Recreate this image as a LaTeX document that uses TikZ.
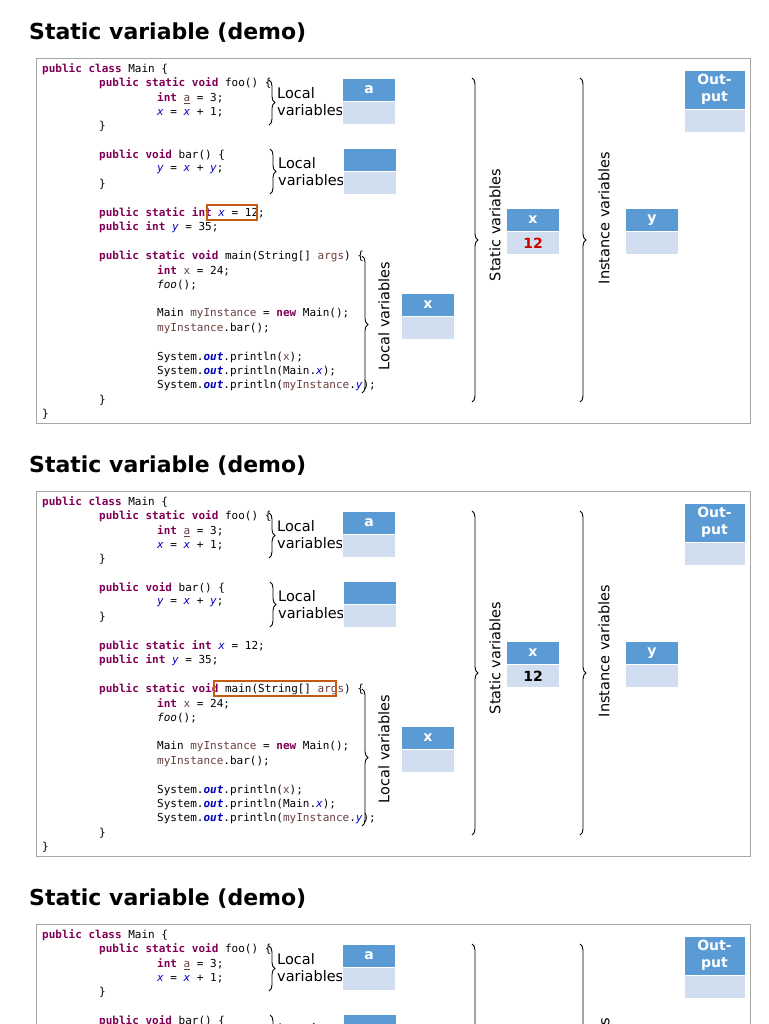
\documentclass[tikz,border=0pt]{standalone}
\usepackage{fontspec}
\setmainfont{DejaVu Sans}
\setmonofont{DejaVu Sans Mono}
\usetikzlibrary{decorations.pathreplacing}
\definecolor{kwcol}{HTML}{7F0055}
\definecolor{fldcol}{HTML}{0000C0}
\definecolor{lvcol}{HTML}{6A3E3E}
\definecolor{hdcol}{HTML}{5B9BD5}
\definecolor{bdcol}{HTML}{D0DEEF}
\definecolor{hlcol}{HTML}{C55A11}
\newcommand\kw[1]{\textcolor{kwcol}{\bfseries #1}}
\newcommand\fld[1]{\textcolor{fldcol}{\itshape #1}}
\newcommand\lv[1]{\textcolor{lvcol}{#1}}
\newcommand\outk{\textcolor{fldcol}{\bfseries\itshape out}}
\tikzset{
  code/.style={anchor=west,inner sep=0pt,font=\ttfamily\fontsize{11}{12}\selectfont},
  hd/.style={fill=hdcol,draw=white,inner sep=0pt,minimum width=53pt,minimum height=23pt,
    text=white,font=\bfseries\fontsize{14}{16}\selectfont},
  bd/.style={fill=bdcol,draw=white,inner sep=0pt,minimum width=53pt,minimum height=23pt,
    font=\bfseries\fontsize{14}{16}\selectfont},
  lbl/.style={inner sep=0pt,font=\fontsize{14.5}{17}\selectfont},
  brc/.style={decorate,decoration={brace,amplitude=6pt},line width=0.9pt},
  hl/.style={draw=hlcol,line width=1.5pt}
}
\begin{document}
\begin{tikzpicture}[x=1pt,y=-1pt]
  \useasboundingbox (0,0) rectangle (768,1024);
  \clip (0,0) rectangle (768,1024);
  \foreach \dy/\p/\vc in {0/1/red!80!black, 433/2/black, 866/3/black}{%
    \begin{scope}[shift={(0,\dy)}]
      \node[anchor=west,inner sep=0pt,font=\bfseries\fontsize{22}{26}\selectfont]
        (title\p) at (29,33) {Static variable (demo)};
      \draw[black!35] (36,58) rectangle (750,423);
      \foreach \i/\ind/\txt in {
        0/42/{\kw{public} \kw{class} Main \{},
        1/99/{\kw{public} \kw{static} \kw{void} foo() \{},
        2/157/{\kw{int} \lv{\underline{a}} = 3;},
        3/157/{\fld{x} = \fld{x} + 1;},
        4/99/{\}},
        6/99/{\kw{public} \kw{void} bar() \{},
        7/157/{\fld{y} = \fld{x} + \fld{y};},
        8/99/{\}},
        10/99/{\kw{public} \kw{static} \kw{int} \fld{x} = 12;},
        11/99/{\kw{public} \kw{int} \fld{y} = 35;},
        13/99/{\kw{public} \kw{static} \kw{void} main(String[] \lv{args}) \{},
        14/157/{\kw{int} \lv{x} = 24;},
        15/157/{\textit{foo}();},
        17/157/{Main \lv{myInstance} = \kw{new} Main();},
        18/157/{\lv{myInstance}.bar();},
        20/157/{System.\outk.println(\lv{x});},
        21/157/{System.\outk.println(Main.\fld{x});},
        22/157/{System.\outk.println(\lv{myInstance}.\fld{y});},
        23/99/{\}},
        24/42/{\}}}{%
        \node[code] (c\p-\i) at (\ind,69+14.4*\i) {\txt};
      }
      % local variables of foo and bar
      \draw[brc] (269,80) -- (269,125);
      \node[lbl,align=left,anchor=west] (lf\p) at (277,102) {Local\\variables};
      \node[hd] (ha\p) at (369,90) {a};
      \node[bd] (ba\p) at (369,113) {};
      \draw[brc] (270,149) -- (270,194);
      \node[lbl,align=left,anchor=west] (lb\p) at (278,172) {Local\\variables};
      \node[hd] (hb\p) at (370,160) {};
      \node[bd] (bb\p) at (370,183) {};
      % local variables of main
      \draw[brc] (362,256) -- (362,393);
      \node[lbl,rotate=90] (lm\p) at (384,316) {Local variables};
      \node[hd] (hx\p) at (428,305) {x};
      \node[bd] (bx\p) at (428,328) {};
      % static and instance variables
      \draw[brc] (472,78) -- (472,402);
      \node[lbl,rotate=90] (ls\p) at (495,225) {Static variables};
      \node[hd] (hs\p) at (533,220) {x};
      \node[bd,text=\vc] (bs\p) at (533,243) {12};
      \draw[brc] (580,78) -- (580,402);
      \node[lbl,rotate=90] (li\p) at (604,218) {Instance variables};
      \node[hd] (hy\p) at (652,220) {y};
      \node[bd] (by\p) at (652,243) {};
      % output
      \node[hd,minimum width=61pt,minimum height=39pt,align=center,font=\bfseries\fontsize{14}{17}\selectfont]
        (ho\p) at (714.5,89.5) {Out-\\put};
      \node[bd,minimum width=61pt] (bo\p) at (714.5,121) {};
    \end{scope}
  }
  \draw[hl] (207,205) rectangle (257,220);
  \draw[hl] (214,681) rectangle (336,696);
\end{tikzpicture}
\end{document}
